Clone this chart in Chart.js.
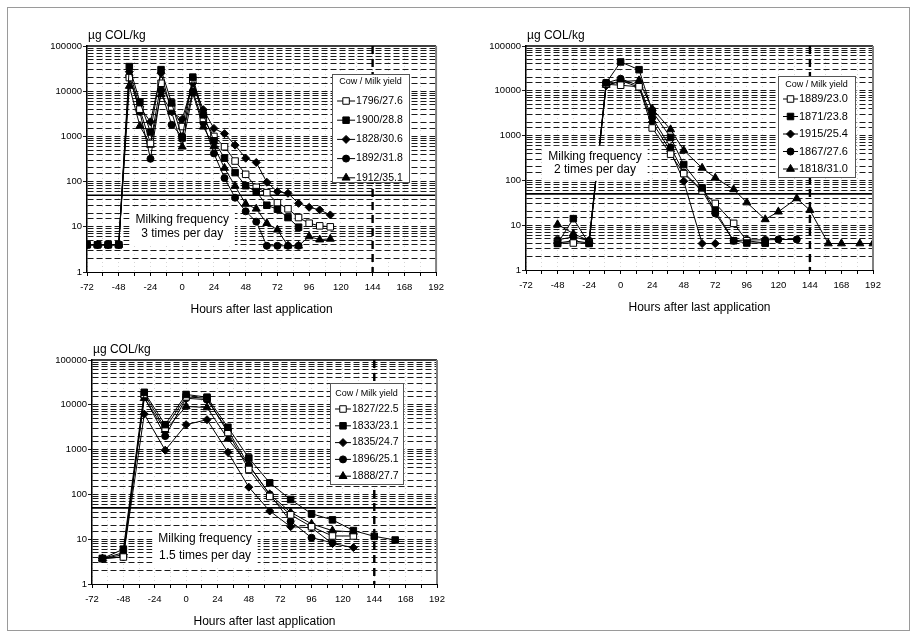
<!DOCTYPE html>
<html>
<head>
<meta charset="utf-8">
<script src="https://cdn.jsdelivr.net/npm/chart.js@4.4.0/dist/chart.umd.min.js"></script>
<style>
  body { margin: 0; background: #fff; }
  #page { position: relative; width: 916px; height: 637px; overflow: hidden; }
  #frame { position: absolute; left: 7px; top: 7px; width: 901px; height: 622px; border: 1px solid #9a9a9a; }
  canvas { position: absolute; }
</style>
</head>
<body>
<div id="page">
  <div id="frame"></div>
  <canvas id="chart1" width="430" height="300" style="left:20px;top:25px"></canvas>
  <canvas id="chart2" width="430" height="298" style="left:459px;top:25px"></canvas>
  <canvas id="chart3" width="430" height="298" style="left:25px;top:339px"></canvas>
</div>
<script>
// --- 3 times per day ---
const hours1 = [-72, -64, -56, -48, -40, -32, -24, -16, -8, 0, 8, 16, 24, 32, 40, 48, 56, 64, 72, 80, 88, 96, 104, 112];
const cow1796 = [4, 4, 4, 4, 20000, 4000, 700, 15000, 4500, 1650, 18000, 2500, 1000, 590, 285, 145, 75, 57, 34, 25, 16, 12, 10.5, 10];
const cow1900 = [4, 4, 4, 4, 35000, 5800, 1250, 30000, 5500, 920, 20500, 3000, 800, 330, 158, 81, 60, 30, 24.5, 16, 9.8, null, null, null];
const cow1828 = [4, 4, 4, 4, 27000, 4500, 2100, 25000, 3500, 2400, 15000, 3900, 1500, 1150, 640, 330, 265, 97, 60, 55, 33, 27, 23.7, 18.3];
const cow1892 = [4, 4, 4, 4, 22000, 3500, 320, 10500, 1800, 1000, 10000, 2000, 420, 120, 44, 22, 13, 3.8, 3.8, 3.8, 3.8, null, null, null];
const cow1912 = [4, 4, 4, 4, 13000, 1700, 650, 8500, 3500, 590, 8900, 1630, 600, 200, 80, 32, 25, 12, 8.6, 3.8, 3.8, 6.1, 5.2, 5.4];
const labels1 = ['1796/27.6', '1900/28.8', '1828/30.6', '1892/31.8', '1912/35.1'];

// --- 2 times per day ---
const hours2 = [-48, -36, -24, -11, 0, 14, 24, 38, 48, 62, 72, 86, 96, 110, 120, 134, 144, 158, 168, 182, 192];
const cow1889 = [4, 4, 4, 14000, 13300, 12300, 1480, 385, 142, 58, 30.6, 11, 4.5, 4, null, null, null, null, null, null, null];
const cow1871 = [3.9, 14, 3.9, 15000, 44000, 29600, 3500, 910, 226, 68, 21, 4.5, 4, 4, null, null, null, null, null, null, null];
const cow1915 = [4, 4.5, 4, 13000, 17000, 12000, 2000, 450, 96, 3.9, 3.9, null, null, null, null, null, null, null, null, null, null];
const cow1867 = [4.7, 5.5, 4.5, 15000, 18600, 13000, 2500, 550, 150, 60, 18.3, 4.5, 4.7, 4.7, 4.8, 4.8, null, null, null, null, null];
const cow1818 = [10.4, 6.5, 4.5, 13500, 16000, 17000, 4000, 1370, 470, 190, 114, 63, 32, 13.5, 20, 39.6, 21.7, 3.9, 3.9, 3.9, 3.9];
const labels2 = ['1889/23.0', '1871/23.8', '1915/25.4', '1867/27.6', '1818/31.0'];

// --- 1.5 times per day ---
const hours3 = [-64, -48, -32, -16, 0, 16, 32, 48, 64, 80, 96, 112, 128, 144, 160];
const cow1827 = [3.7, 4, 17000, 3000, 15000, 14000, 2400, 360, 90, 35, 19, 11.8, 11.8, null, null];
const cow1833 = [3.7, 6, 19000, 3600, 17000, 14800, 3150, 650, 181, 77, 37, 27, 15.6, 11.6, 9.6];
const cow1835 = [3.7, 4, 6200, 970, 3600, 4650, 870, 145, 42.6, 19, 18, 8, 6.5, null, null];
const cow1896 = [3.7, 4.5, 15000, 2000, 14000, 13000, 2700, 450, 100, 25, 10.8, 8.3, null, null, null];
const cow1888 = [3.7, 5, 14000, 2700, 9200, 8700, 1730, 450, 100, 40, 22, 15.5, 14.5, null, null];
const labels3 = ['1827/22.5', '1833/23.1', '1835/24.7', '1896/25.1', '1888/27.7'];

const xTicks = { min: -72, max: 192, step: 12, labelStep: 24 };
const limitValue = 50;
const cutoffHour = 144;

const markerStyles = ['rect', 'rect', 'rectRot', 'circle', 'triangle'];
const markerFill = ['#ffffff', '#000000', '#000000', '#000000', '#000000'];
const markerRadius = [4.6, 4.6, 4, 3.5, 4.6];
const drawOrder = [1, 0, 2, 3, 4]; // filled squares end up on top
const FONT = '"Liberation Sans", Arial, sans-serif';

function toPoints(hours, values) {
  const pts = [];
  hours.forEach((h, i) => { if (values[i] != null) pts.push({ x: h, y: values[i] }); });
  return pts;
}

function isDecade(v) {
  const l = Math.log10(v);
  return Math.abs(l - Math.round(l)) < 1e-6;
}

const refLines = {
  id: 'refLines',
  beforeDatasetsDraw(chart) {
    const { ctx, chartArea: a, scales } = chart;
    const y = scales.y.getPixelForValue(limitValue);
    const x = scales.x.getPixelForValue(cutoffHour);
    ctx.save();
    ctx.strokeStyle = '#000';
    ctx.lineWidth = 1.6;
    ctx.beginPath(); ctx.moveTo(a.left, y); ctx.lineTo(a.right, y); ctx.stroke();
    ctx.lineWidth = 2.4;
    ctx.setLineDash([8, 5]);
    ctx.beginPath(); ctx.moveTo(x, a.top); ctx.lineTo(x, a.bottom); ctx.stroke();
    ctx.restore();
  },
  afterDraw(chart) {
    const { ctx, chartArea: a } = chart;
    ctx.save();
    ctx.strokeStyle = '#000';
    ctx.lineWidth = 1.5;
    ctx.beginPath(); ctx.moveTo(a.left, a.top); ctx.lineTo(a.right, a.top); ctx.stroke();
    ctx.strokeStyle = '#808080';
    ctx.lineWidth = 2;
    ctx.beginPath(); ctx.moveTo(a.right, a.top); ctx.lineTo(a.right, a.bottom); ctx.stroke();
    ctx.fillStyle = '#000';
    ctx.font = '12px ' + FONT;
    ctx.textAlign = 'left';
    ctx.textBaseline = 'alphabetic';
    ctx.fillText('\u00b5g COL/kg', a.left + 1, a.top - 7);
    ctx.restore();
  }
};

const note = {
  id: 'note',
  afterDatasetsDraw(chart, args, o) {
    const { ctx, scales } = chart;
    const cx = scales.x.getPixelForValue(o.x);
    const cy = scales.y.getPixelForValue(o.y);
    ctx.save();
    ctx.font = '12px ' + FONT;
    const w = Math.max(...o.lines.map(t => ctx.measureText(t).width)) + 12;
    const h = o.gap * o.lines.length + 8;
    ctx.fillStyle = '#fff';
    ctx.fillRect(cx - w / 2, cy - h / 2, w, h);
    ctx.fillStyle = '#000';
    ctx.textAlign = 'center';
    ctx.textBaseline = 'middle';
    o.lines.forEach((t, i) => ctx.fillText(t, cx, cy + (i - (o.lines.length - 1) / 2) * o.gap));
    ctx.restore();
  }
};

const boxLegend = {
  id: 'boxLegend',
  afterDraw(chart, args, o) {
    const { ctx, chartArea: a } = chart;
    const x = a.right - o.right - o.width;
    const y = a.top + o.top;
    ctx.save();
    ctx.fillStyle = '#fff';
    ctx.fillRect(x, y, o.width, o.height);
    ctx.strokeStyle = '#555';
    ctx.lineWidth = 1;
    ctx.strokeRect(Math.round(x) + 0.5, Math.round(y) + 0.5, o.width, o.height);
    ctx.fillStyle = '#000';
    ctx.font = '9px ' + FONT;
    ctx.textAlign = 'center';
    ctx.textBaseline = 'middle';
    ctx.fillText('Cow / Milk yield', x + o.width / 2, y + o.titleY);
    ctx.font = o.fontSize + 'px ' + FONT;
    ctx.textAlign = 'left';
    chart.data.datasets.forEach((ds, i) => {
      const ry = y + o.firstRow + i * o.rowH;
      const lx = x + 5;
      ctx.strokeStyle = '#000';
      ctx.lineWidth = 1;
      ctx.beginPath(); ctx.moveTo(lx, ry); ctx.lineTo(lx + o.lineLen, ry); ctx.stroke();
      ctx.fillStyle = ds.pointBackgroundColor;
      Chart.helpers.drawPoint(ctx, { pointStyle: ds.pointStyle, radius: ds.pointRadius, rotation: 0, borderWidth: 1 }, lx + o.lineLen / 2, ry);
      ctx.fillStyle = '#000';
      ctx.fillText(ds.label, lx + o.lineLen + 1, ry);
    });
    ctx.restore();
  }
};

function makeChart(id, hours, series, labels, pad, noteOpts, legendOpts) {
  const datasets = series.map((vals, i) => ({
    label: labels[i],
    data: toPoints(hours, vals),
    order: drawOrder[i],
    borderColor: '#000',
    borderWidth: 1,
    pointStyle: markerStyles[i],
    pointRadius: markerRadius[i],
    pointBackgroundColor: markerFill[i],
    pointBorderColor: '#000',
    pointBorderWidth: 1,
    tension: 0
  }));
  return new Chart(document.getElementById(id), {
    type: 'line',
    data: { datasets },
    plugins: [refLines, note, boxLegend],
    options: {
      responsive: false,
      animation: false,
      events: [],
      layout: { padding: { top: 21, right: pad, bottom: 0, left: 0 } },
      plugins: {
        legend: { display: false },
        tooltip: { enabled: false },
        note: noteOpts,
        boxLegend: legendOpts
      },
      scales: {
        x: {
          type: 'linear',
          min: xTicks.min,
          max: xTicks.max,
          afterFit(s) { s.height = 53; },
          afterBuildTicks(s) {
            const t = [];
            for (let v = xTicks.min; v <= xTicks.max; v += xTicks.step) t.push({ value: v });
            s.ticks = t;
          },
          ticks: {
            autoSkip: false,
            maxRotation: 0,
            padding: 6,
            color: '#000',
            font: { family: FONT, size: 9.5 },
            callback: v => ((v - xTicks.min) % xTicks.labelStep === 0 ? String(v) : '')
          },
          grid: {
            color: 'rgba(0,0,0,0.16)',
            lineWidth: 1,
            tickColor: '#000',
            tickLength: 4
          },
          border: { color: '#000', width: 1, dash: [1, 3] },
          title: {
            display: true,
            text: 'Hours after last application',
            color: '#000',
            font: { family: FONT, size: 12 },
            padding: { top: 4, bottom: 8 }
          }
        },
        y: {
          type: 'logarithmic',
          min: 1,
          max: 100000,
          afterFit(s) { s.width = 67; },
          ticks: {
            autoSkip: false,
            padding: 1,
            color: '#000',
            font: { family: FONT, size: 9.5 },
            callback: v => (isDecade(v) ? String(Math.round(v)) : '')
          },
          grid: {
            color: c => (c.tick && (c.tick.value <= 1 || c.tick.value >= 100000) ? 'rgba(0,0,0,0)' : '#000'),
            lineWidth: 0.9,
            tickColor: c => (c.tick && isDecade(c.tick.value) ? '#000' : 'rgba(0,0,0,0)'),
            tickLength: 4
          },
          border: { color: '#000', width: 1.5, dash: [6, 3] }
        }
      }
    }
  });
}

makeChart('chart1', hours1, [cow1796, cow1900, cow1828, cow1892, cow1912], labels1, 13,
  { x: 0, y: 10, lines: ['Milking frequency', '3 times per day'], gap: 14.5 },
  { right: 27, top: 28, width: 77, height: 108, titleY: 8, firstRow: 27, rowH: 19.2, lineLen: 18, fontSize: 10.5 });

makeChart('chart2', hours2, [cow1889, cow1871, cow1915, cow1867, cow1818], labels2, 16,
  { x: -19.5, y: 240, lines: ['Milking frequency', '2 times per day'], gap: 13.5 },
  { right: 18, top: 30, width: 77, height: 101, titleY: 9, firstRow: 23, rowH: 17.5, lineLen: 15, fontSize: 11 });

makeChart('chart3', hours3, [cow1827, cow1833, cow1835, cow1896, cow1888], labels3, 18,
  { x: 14.5, y: 6.6, lines: ['Milking frequency', '1.5 times per day'], gap: 17 },
  { right: 34, top: 23, width: 73, height: 101, titleY: 11, firstRow: 26, rowH: 16.8, lineLen: 16, fontSize: 10.5 });
</script>
</body>
</html>
